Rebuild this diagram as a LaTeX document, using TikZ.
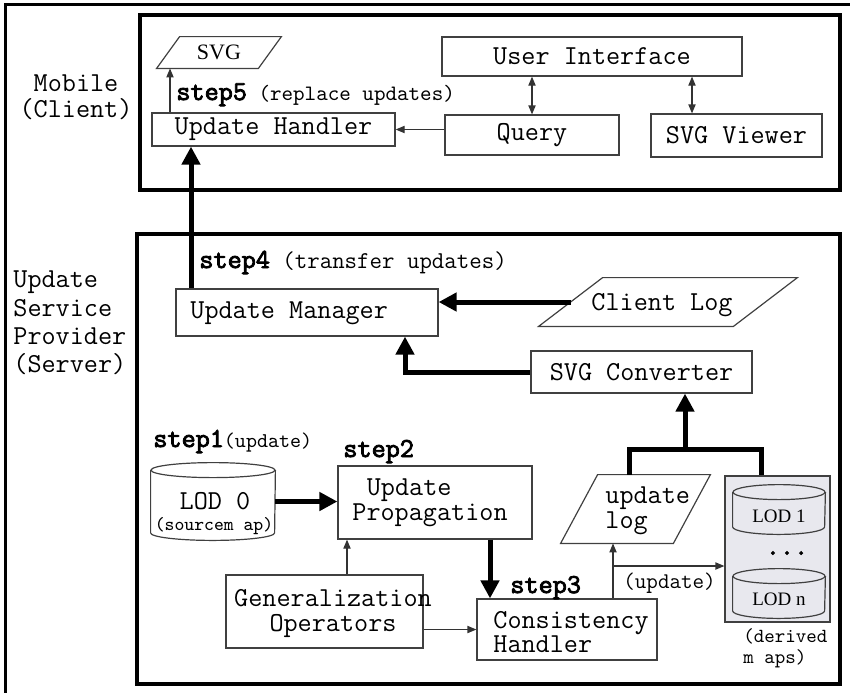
\documentclass[tikz,border=0pt]{standalone}
\usepackage{fontspec}
\setmainfont{Latin Modern Mono}[BoldFont={Latin Modern Mono}, BoldFeatures={FakeBold=3}]
\newfontfamily\tms{Liberation Serif}
\usetikzlibrary{arrows.meta,calc}
\definecolor{lodfill}{RGB}{232,232,238}

% text in a given size
\newcommand\fsz[2]{{\fontsize{#1}{#1}\selectfont #2}}
% cylinder drawn over a placeholder node: name, x radius, y radius
\newcommand\cyl[3]{%
  \draw[cylline] ([yshift=-#3]#1.north) ellipse[x radius=#2, y radius=#3];
  \draw[cylline] ([yshift=-#3]#1.north west) -- ([yshift=#3]#1.south west)
    arc[start angle=180, end angle=360, x radius=#2, y radius=#3]
    -- ([yshift=-#3]#1.north east);}
% parallelogram over a placeholder node: name, slant
\newcommand\para[2]{%
  \draw[box] (#1.south west) -- ([xshift=#2]#1.north west) -- (#1.north east)
    -- ([xshift=-#2]#1.south east) -- cycle;}

\begin{document}
\begin{tikzpicture}[x=0.5pt,y=-0.5pt,
  font=\fontsize{13.7}{12.3}\selectfont,
  box/.style={draw=black!75, line width=0.6pt, inner sep=0pt},
  cylline/.style={draw=black!75, line width=0.6pt},
  bx/.style 2 args={minimum width=#1*0.5pt, minimum height=#2*0.5pt},
  txt/.style={inner sep=0pt},
  group/.style={draw=black, line width=2pt, inner sep=0pt},
  thinarr/.style={draw=black!80, line width=0.6pt, -{Triangle[length=4.5pt,width=3.6pt]}},
  dblarr/.style={draw=black!80, line width=0.6pt,
    {Triangle[length=4.5pt,width=3.6pt]}-{Triangle[length=4.5pt,width=3.6pt]}},
  thickarr/.style={line width=2.5pt, -{Triangle[length=9pt,width=9pt]}},
  thickline/.style={line width=2.5pt}
]
\useasboundingbox (0,0) rectangle (850,692);
\clip (0,0) rectangle (850,692);

% outer frame and the two tiers
\draw[line width=1.5pt] (5,720) -- (5,4) -- (880,4);
\node[group, bx={700}{175}] (mobile) at (490,102.5) {};
\node[group, bx={703}{450}] (server) at (488.5,459) {};

% tier labels
\node[txt, align=center, font=\fontsize{13.7}{13.2}\selectfont] (moblbl) at (76,97) {Mobile\\(Client)};
\node[txt, anchor=west, align=left, font=\fontsize{13.7}{14.2}\selectfont] (srvlbl) at (13,323)
  {Update\\Service\\Provider\\(Server)};

% helper columns
\coordinate (x170) at (170,0);
\coordinate (x191) at (191,0);
\coordinate (x347) at (347,0);
\coordinate (x405) at (405,0);
\coordinate (x490) at (490,0);
\coordinate (x613) at (613,0);
\coordinate (x629) at (629,0);
\coordinate (x692) at (692,0);
\coordinate (x761) at (761,0);

% ---------- mobile client ----------
\node[box, bx={243}{33}] (handler) at (273.5,129.5) {Update Handler};
\node[box, bx={300}{39}] (ui) at (592,56.5) {User Interface};
\node[box, bx={174}{40}] (query) at (532,135) {Query};
\node[box, bx={171}{43}] (viewer) at (736.5,135.5) {SVG Viewer};
\node[txt, bx={124}{31}, font=\tms\fontsize{11}{11}\selectfont] (svg) at (219,52.5) {SVG};
\para{svg}{11.5pt}

\node[txt, anchor=base west] (step5) at (176,100)
  {\textbf{step5}\fsz{11}{ (replace updates)}};

\draw[thinarr] (handler.north -| x170) -- (svg.south -| x170);
\draw[thinarr] (query.west |- handler.east) -- (handler.east);
\draw[dblarr] (ui.south -| query.north) -- (query.north);
\draw[dblarr] (ui.south -| x692) -- (viewer.north -| x692);

% ---------- update service provider ----------
\node[box, bx={262}{47}] (mgr) at (307,312.5) {};
\node[txt, anchor=west] (mgrtxt) at (190,313) {Update Manager};

\node[txt, bx={258}{48}] (clog) at (668,302) {};
\para{clog}{32pt}
\node[txt] (clogtxt) at (662,305) {Client Log};

\node[box, bx={221}{42}] (conv) at (641.5,372) {SVG Converter};

\node[txt, anchor=base west] (step4) at (199,268)
  {\textbf{step4}\fsz{12.1}{ (transfer updates)}};

% source map
\node[txt, bx={124}{77}] (lod0) at (213,501.5) {};
\cyl{lod0}{31pt}{3.75pt}
\node[txt] (lod0a) at (215,501) {LOD 0};
\node[txt, font=\fontsize{9.4}{10}\selectfont] (lod0b) at (214,526) {(sourcem ap)};
\node[txt, anchor=base west] (step1) at (153,447) {\textbf{step1}\fsz{10.5}{(update)}};

% propagation
\node[box, bx={194}{73}] (prop) at (435,502.5) {};
\node[txt, anchor=west, align=left] (proptxt) at (352,503) {\hspace*{7.2pt}Update\\Propagation};
\node[txt, anchor=base west] (step2) at (343,457) {\textbf{step2}};

% generalization operators
\node[box, bx={197}{73}] (gen) at (324.5,611.5) {};
\node[txt, align=center] (gentxt) at (333,613.5) {Generalization\\Operators};

% consistency handler
\node[box, bx={180}{61}] (cons) at (567,629.5) {};
\node[txt, anchor=west, align=left] (constxt) at (493,632) {Consistency\\Handler};
\node[txt, anchor=base west] (step3) at (510,593) {\textbf{step3}};
\node[txt, anchor=base west] (updlbl) at (623,588) {\fsz{11.2}{(update)}};

% update log
\node[txt, bx={149}{68}] (updlog) at (635.5,509) {};
\para{updlog}{18.5pt}
\node[txt, anchor=west, align=left] (updlogtxt) at (605,511) {update\\log};

% derived maps
\node[box, fill=lodfill, bx={105}{146}] (lodg) at (777.5,549) {};
\node[txt, bx={92}{49}] (lod1) at (779,509.5) {};
\cyl{lod1}{23pt}{3.75pt}
\node[txt, font=\tms\fontsize{9.5}{10}\selectfont] (lod1txt) at (779,516) {LOD 1};
\node[txt] (dots) at (787,553) {\textbf{...}};
\node[txt, bx={92}{49}] (lodn) at (779,593.5) {};
\cyl{lodn}{23pt}{3.75pt}
\node[txt, font=\tms\fontsize{9.5}{10}\selectfont] (lodntxt) at (779,599) {LOD n};
\node[txt, anchor=west, align=left, font=\fontsize{10}{10.5}\selectfont] (derived) at (743,648)
  {(derived\\m aps)};

% connectors
\draw[thickarr] (mgr.north -| x191) -- (handler.south -| x191);
\coordinate (clogL) at ([xshift=16pt]clog.west);
\draw[thickarr] (clogL) -- (mgr.east |- clogL);
\draw[thickarr] (conv.west) -| (mgr.south -| x405);
\coordinate (fork) at (685,449);
\draw[thickline] (updlog.north -| x629) |- (fork) -| (lodg.north -| x761);
\draw[thickarr] (fork) -- (conv.south -| fork);
\draw[thickarr] (lod0.east) -- (prop.west |- lod0.east);
\draw[thinarr] (gen.north -| x347) -- (prop.south -| x347);
\draw[thinarr] (gen.east |- cons.west) -- (cons.west);
\draw[thickarr] (prop.south -| x490) -- (cons.north -| x490);
\draw[thinarr] (cons.north -| x613) -- (updlog.south -| x613);
\coordinate (br) at (613,566);
\draw[thinarr] (br) -- (lodg.west |- br);
\end{tikzpicture}
\end{document}
